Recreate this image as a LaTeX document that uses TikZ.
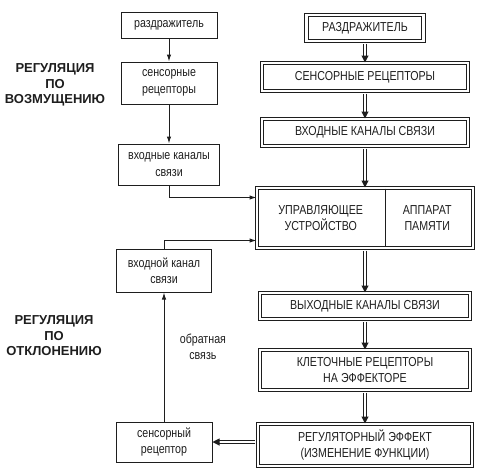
\documentclass[tikz,border=0pt]{standalone}
\usepackage{fontspec}
\setmainfont{Liberation Sans}[FakeStretch=0.82]
\newfontfamily\tagface{Liberation Sans}
\usetikzlibrary{arrows.meta,positioning,calc}
\definecolor{ink}{HTML}{1E1E1E}
\newcommand\boxfont{\fontsize{13}{16.5}\selectfont}
\newcommand\tagfont{\tagface\fontsize{13}{15.5}\selectfont\bfseries}

\begin{document}
\begin{tikzpicture}[
   x=1pt,y=-1pt,
   font=\boxfont,
   lbox/.style ={draw=ink,text=ink,line width=1pt,minimum width=96pt,align=center,inner sep=2pt},
   rbox/.style ={draw=ink,text=ink,double,double distance=2.2pt,line width=1pt,minimum width=206pt,align=center,inner sep=2pt},
   tag/.style  ={font=\tagfont,text=ink,align=center},
   arr/.style  ={-{Latex[length=7pt,width=4.5pt]},draw=ink,line width=1pt},
   dbl/.style  ={-{Triangle[length=7pt,width=7pt]},draw=ink,double,double distance=2.2pt,line width=1pt,shorten <=2.1pt}
  ]
  \useasboundingbox (0,0) rectangle (480,467);

  % side labels
  \node[tag] (dist) at (55,85) {РЕГУЛЯЦИЯ\\ПО\\ВОЗМУЩЕНИЮ};
  \node[tag] (dev) at (54,336) {РЕГУЛЯЦИЯ\\ПО\\ОТКЛОНЕНИЮ};

  % left column
  \node[lbox,minimum height=26pt] (stim) at (169,25) {раздражитель};
  \node[lbox,minimum height=42pt,below=23pt of stim] (sens) {сенсорные\\рецепторы};
  \node[lbox,minimum height=41pt,minimum width=101pt,below=39pt of sens] (inch) {входные каналы\\связи};
  \node[lbox,minimum height=43pt,minimum width=95pt] (fbin) at (164,270.5) {входной канал\\связи};
  \node[lbox,minimum height=40pt] (fbrec) at (164,442) {сенсорный\\рецептор};

  % right column
  \node[rbox,minimum height=26pt,minimum width=117pt] (Stim) at (365,28) {РАЗДРАЖИТЕЛЬ};
  \node[rbox,minimum height=28pt,below=21pt of Stim] (Sens) {СЕНСОРНЫЕ РЕЦЕПТОРЫ};
  \node[rbox,minimum height=27pt,below=27pt of Sens] (Inch) {ВХОДНЫЕ КАНАЛЫ СВЯЗИ};
  \node[rbox,minimum height=60pt,minimum width=216pt,below=41pt of Inch] (ctl) {};
  \node[rbox,minimum height=26pt,minimum width=210pt,below=44pt of ctl] (outch) {ВЫХОДНЫЕ КАНАЛЫ СВЯЗИ};
  \node[rbox,minimum height=40pt,minimum width=210pt,below=30pt of outch] (eff) {КЛЕТОЧНЫЕ РЕЦЕПТОРЫ\\НА ЭФФЕКТОРЕ};
  \node[rbox,minimum height=42pt,minimum width=214pt,below=33pt of eff] (reg) {РЕГУЛЯТОРНЫЙ ЭФФЕКТ\\(ИЗМЕНЕНИЕ ФУНКЦИИ)};

  % control unit split
  \draw[ink,line width=1pt,shorten <=1.2pt,shorten >=1.2pt]
    ($(ctl.north west)!0.593!(ctl.north east)$) -- ($(ctl.south west)!0.593!(ctl.south east)$);
  \node[text=ink,align=center] (ctlA) at ($(ctl.west)!0.296!(ctl.east)$) {УПРАВЛЯЮЩЕЕ\\УСТРОЙСТВО};
  \node[text=ink,align=center] (ctlB) at ($(ctl.west)!0.787!(ctl.east)$) {АППАРАТ\\ПАМЯТИ};

  % single arrows
  \draw[arr] (stim) -- (sens);
  \draw[arr] (sens) -- (inch);
  \draw[arr] (inch.south) |- ([yshift=-10pt]ctl.north west);
  \draw[arr] (fbin.north) |- ([yshift=8pt]ctl.south west);
  \draw[arr] (fbrec) -- (fbin) node[pos=0.58,right=12pt,text=ink,align=center] (fbl) {обратная\\связь};

  % double arrows
  \draw[dbl] (Stim) -- (Sens);
  \draw[dbl] (Sens) -- (Inch);
  \draw[dbl] (Inch) -- (ctl);
  \draw[dbl] (ctl) -- (outch);
  \draw[dbl] (outch) -- (eff);
  \draw[dbl] (eff) -- (reg);
  \draw[dbl] (reg.west |- fbrec) -- (fbrec);
\end{tikzpicture}
\end{document}
